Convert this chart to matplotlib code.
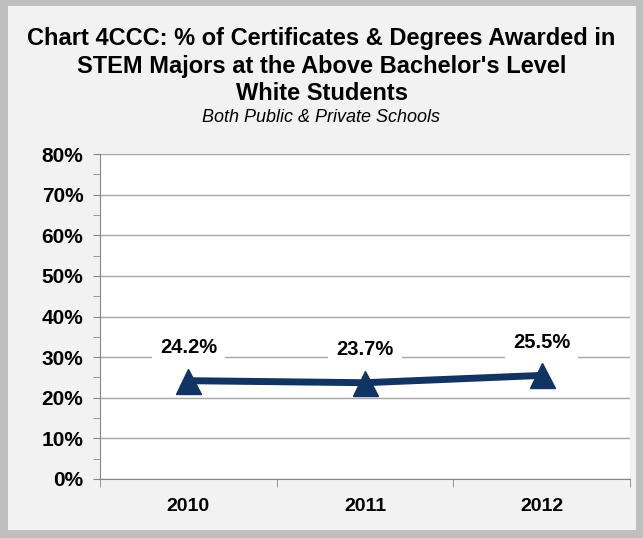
import matplotlib
matplotlib.use("Agg")
import matplotlib.pyplot as plt
from matplotlib.patches import Rectangle
from matplotlib.ticker import MultipleLocator, FuncFormatter

years = ["2010", "2011", "2012"]
values = [24.2, 23.7, 25.5]
labels = ["24.2%", "23.7%", "25.5%"]

plt.rcParams['font.family'] = ['Liberation Sans', 'DejaVu Sans']

W, H = 643, 538
fig = plt.figure(figsize=(W / 100, H / 100), dpi=100)
fig.patch.set_facecolor("#BFBFBF")
bg = fig.add_axes([0, 0, 1, 1], zorder=0)
bg.set_axis_off()
bg.add_patch(Rectangle((8 / W, 8 / H), (636 - 8) / W, (532 - 8) / H,
                       transform=bg.transAxes, facecolor="#F2F2F2",
                       edgecolor="none"))

ax = fig.add_axes([100 / W, 1 - 479 / H, (630 - 100) / W, (479 - 154) / H], zorder=2)
ax.set_facecolor("white")
x = list(range(len(years)))
ax.plot(x, values, color="#123462", lw=5, marker="^", markersize=18,
        markeredgecolor="#123462", markerfacecolor="#123462", zorder=3)
for xi, v, lab in zip(x, values, labels):
    ax.annotate(lab, (xi, v), xytext=(0, 24), textcoords="offset points",
                ha="center", va="center", fontsize=14.5, fontweight="bold",
                bbox=dict(boxstyle="square,pad=0.4", fc="white", ec="none"),
                zorder=4)

ax.set_xlim(-0.5, 2.5)
ax.set_ylim(0, 80)
ax.yaxis.set_major_locator(MultipleLocator(10))
ax.yaxis.set_minor_locator(MultipleLocator(5))
ax.yaxis.set_major_formatter(FuncFormatter(lambda v, p: f"{int(v)}%"))
ax.grid(axis="y", which="major", color="#A6A6A6", lw=1)
ax.set_axisbelow(True)
ax.set_xticks(x)
ax.set_xticklabels(years, fontsize=14, fontweight="bold")
ax.set_xticks([-0.5, 0.5, 1.5, 2.5], minor=True)
ax.tick_params(axis="x", which="major", length=0, pad=14)
ax.tick_params(axis="x", which="minor", length=6, color="#868686", direction="out")
ax.tick_params(axis="y", which="both", length=5, color="#868686", direction="out")
ax.tick_params(axis="y", which="major", labelsize=15, pad=7)
for lab in ax.get_yticklabels():
    lab.set_fontweight("bold")
for s in ["top", "right"]:
    ax.spines[s].set_visible(False)
for s in ["left", "bottom"]:
    ax.spines[s].set_color("#868686")

title = ("Chart 4CCC: % of Certificates & Degrees Awarded in\n"
         "STEM Majors at the Above Bachelor's Level\nWhite Students")
fig.text(0.5, 1 - 66 / H, title, ha="center", va="center", fontsize=17,
         fontweight="bold", linespacing=1.27, zorder=3)
fig.text(0.5, 1 - 117 / H, "Both Public & Private Schools", ha="center",
         va="center", fontsize=13, style="italic", zorder=3)

fig.savefig("out.png", dpi=100, facecolor=fig.get_facecolor())
